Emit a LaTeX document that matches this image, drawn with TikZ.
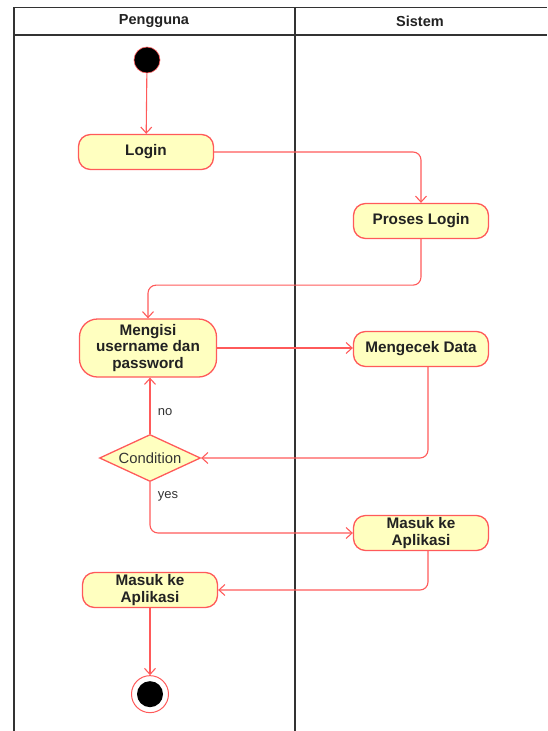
\documentclass[tikz,border=0pt]{standalone}
\usepackage{fontspec}
\setmainfont{Liberation Sans}
\usepackage{xcolor}
\usepackage{tikz}
\usetikzlibrary{positioning}
\usetikzlibrary{shapes.geometric}
\usetikzlibrary{arrows.meta}
\definecolor{linered}{HTML}{FF5A5A}
\definecolor{nodefill}{HTML}{FFFFC0}
\definecolor{ink}{HTML}{222222}
\definecolor{framegray}{HTML}{333333}

\begin{document}
\begin{tikzpicture}[x=1pt, y=-1pt,
  activity/.style={draw=linered, fill=nodefill, line width=1.3pt, rounded corners=12pt,
    minimum width=135pt, minimum height=35pt, inner sep=2pt, align=center, text=ink,
    font=\fontsize{15.3}{16.3}\selectfont\bfseries},
  decision/.style={diamond, draw=linered, fill=nodefill, line width=1.3pt, aspect=2.15,
    minimum width=101pt, minimum height=47pt, inner sep=0pt, text=framegray,
    font=\fontsize{14.8}{16}\selectfont},
  startnode/.style={circle, draw=linered, fill=black, line width=.6pt, minimum size=26pt, inner sep=0pt},
  endnode/.style={circle, draw=linered, fill=white, line width=1pt, minimum size=37pt, inner sep=0pt,
    path picture={\fill[black] (path picture bounding box.center) circle (13pt);}},
  flow/.style={draw=linered, line width=1.1pt, rounded corners=8pt,
    -{Straight Barb[length=6pt,width=11pt]}},
  lane/.style={draw=framegray, line width=1.3pt},
  guard/.style={text=framegray, font=\fontsize{13}{14}\selectfont}]
\useasboundingbox (0,0) rectangle (547,731);
% swimlanes
\draw[lane] (14,731) -- (14,7.5) -- (547,7.5);
\draw[lane] (14,35) -- (547,35);
\draw[lane] (295,7.5) -- (295,731);
\node[text=ink, font=\fontsize{14.5}{16}\selectfont\bfseries] (lane1) at (154,21) {Pengguna};
\node[text=ink, font=\fontsize{14.5}{16}\selectfont\bfseries] (lane2) at (420,21) {Sistem};
% activities
\node[startnode] (start) at (147,60) {};
\node[activity] (login) at (146,152) {Login};
\node[activity] (proses) at (421,221) {Proses Login};
\node[activity, minimum width=137pt, minimum height=58pt, rounded corners=18pt] (mengisi) at (148,348) {Mengisi\\username dan\\password};
\node[activity] (cek) at (421,349) {Mengecek Data};
\node[decision] (cond) at (150,458) {Condition};
\node[activity] (masuk2) at (421,533) {Masuk ke\\Aplikasi};
\node[activity] (masuk1) at (150,590) {Masuk ke\\Aplikasi};
\node[endnode, below=67pt of masuk1] (stop) {};
% arrows
\draw[flow] (start) -- (login);
\draw[flow] (login.east) -| (proses.north);
\draw[flow] (proses.south) -- ++(0,46) -| (mengisi.north);
\draw[flow] (mengisi.east) -- (mengisi.east -| cek.west);
\draw[flow] ([xshift=7pt]cek.south) |- (cond.east);
\draw[flow] (cond.north) -- (cond.north |- mengisi.south) node[guard, pos=.39, right=4pt] (no) {no};
\draw[flow] (cond.south) |- (masuk2.west) node[guard, pos=.14, right=4pt] (yes) {yes};
\draw[flow] ([xshift=7pt]masuk2.south) |- (masuk1.east);
\draw[flow] (masuk1) -- (stop);
\end{tikzpicture}
\end{document}
